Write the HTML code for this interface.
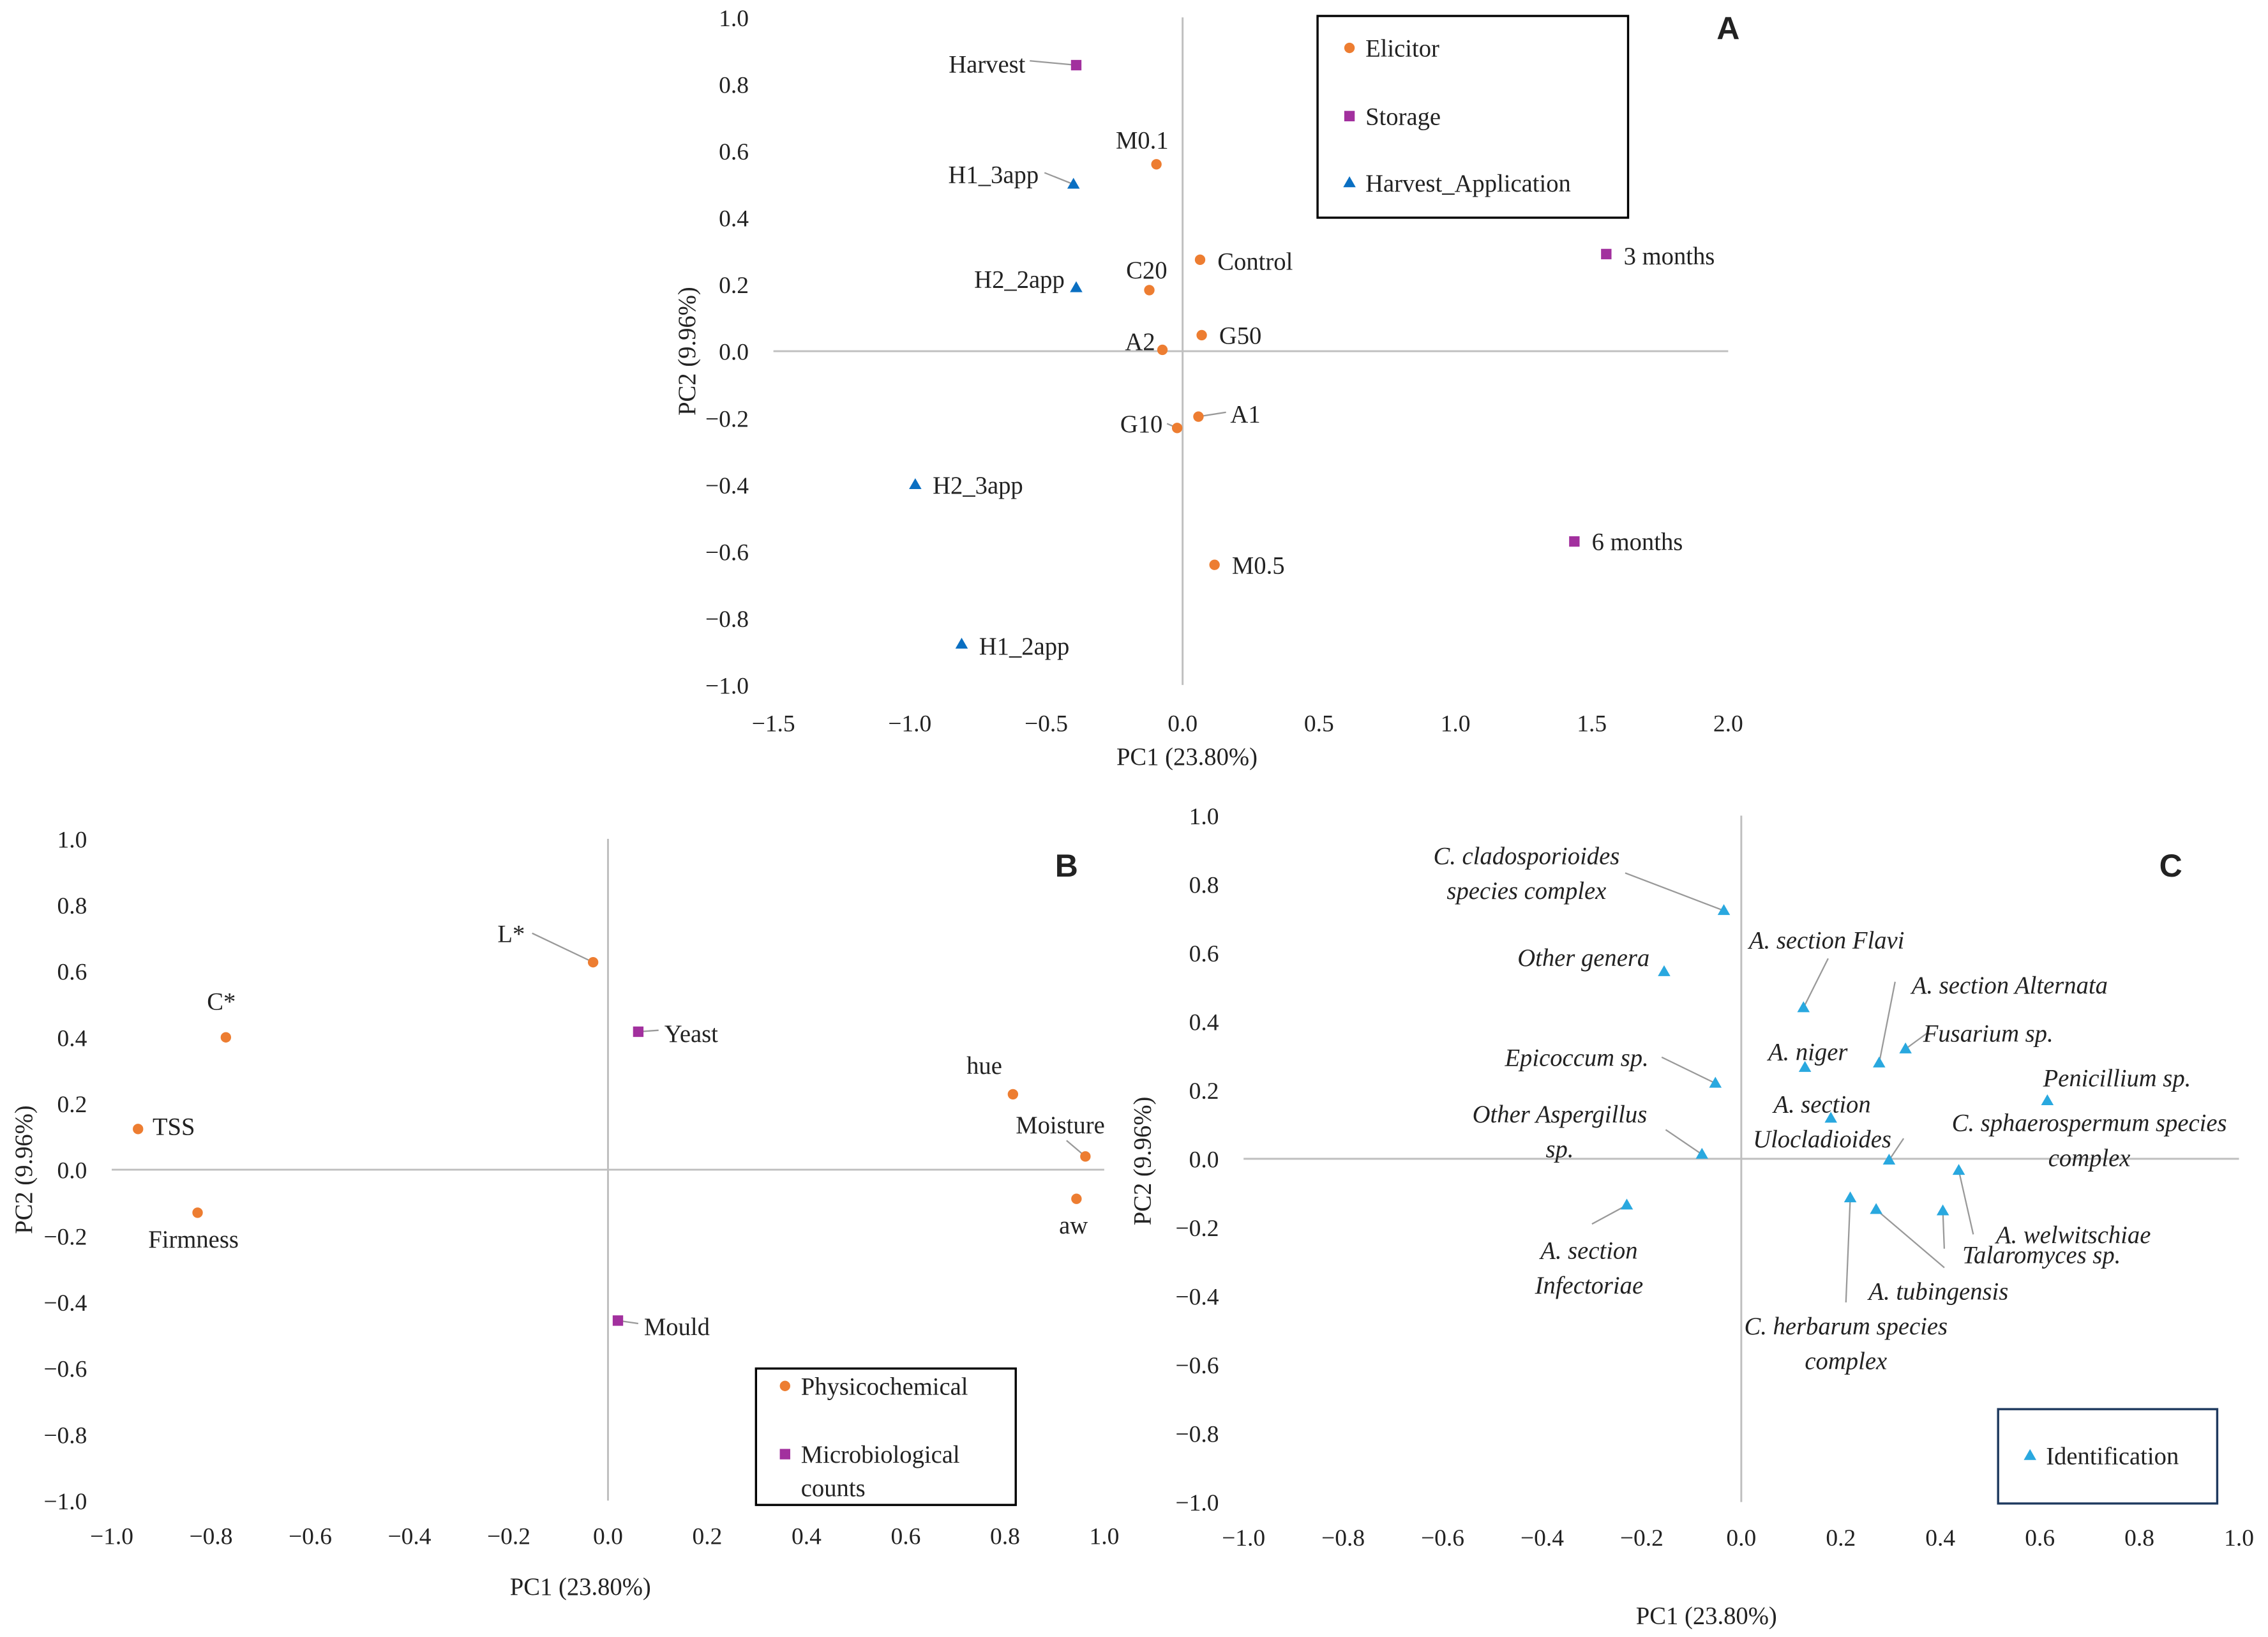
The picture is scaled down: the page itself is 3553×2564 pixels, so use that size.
<!DOCTYPE html>
<html><head><meta charset="utf-8">
<style>
html,body{margin:0;padding:0;background:#fff;}
svg{display:block;}
text{font-family:"Liberation Serif",serif;fill:#222;}
</style></head>
<body>
<svg id="chart" xmlns="http://www.w3.org/2000/svg" width="3553" height="2564" viewBox="0 0 1563 1128" preserveAspectRatio="none"></svg>
<script>
// ===== Panel A data =====
const aLabels = ["Harvest","M0.1","H1_3app","Control","3 months","C20","H2_2app","G50","A2","A1","G10","H2_3app","6 months","M0.5","H1_2app"];
const aPC1 = [-0.39,-0.096,-0.40,0.064,1.553,-0.122,-0.39,0.07,-0.074,0.058,-0.02,-0.98,1.436,0.117,-0.81];
const aPC2 = [0.857,0.56,0.50,0.274,0.291,0.183,0.19,0.048,0.004,-0.196,-0.23,-0.40,-0.57,-0.64,-0.878];
const aGroup = ["Storage","Elicitor","Harvest_Application","Elicitor","Storage","Elicitor","Harvest_Application","Elicitor","Elicitor","Elicitor","Elicitor","Harvest_Application","Storage","Elicitor","Harvest_Application"];
const aXTicks = [-1.5,-1.0,-0.5,0.0,0.5,1.0,1.5,2.0];
const aYTicks = [1.0,0.8,0.6,0.4,0.2,0.0,-0.2,-0.4,-0.6,-0.8,-1.0];
// label layout: [dx, dy, anchor, leaderDx, leaderDy] (leader relative to text anchor)
const aOff = [[-35,-1,"end",3,-2],[-28,-17,"start"],[-24,-7,"end",4,-1],[12,1,"start"],[12,1,"start"],[-16,-14,"start"],[-8,-6,"end"],[12,0,"start"],[-5,-6,"end"],[22,-2,"start",-3,-1],[-10,-3,"end",3,0],[12,0,"start"],[12,0,"start"],[12,0,"start"],[12,1,"start"]];

// ===== Panel B data =====
const bLabels = ["L*","C*","Yeast","TSS","hue","Moisture","Firmness","aw","Mould"];
const bPC1 = [-0.03,-0.77,0.061,-0.947,0.816,0.962,-0.827,0.944,0.02];
const bPC2 = [0.627,0.40,0.417,0.123,0.228,0.04,-0.13,-0.088,-0.456];
const bGroup = ["Physicochemical","Physicochemical","Microbiological","Physicochemical","Physicochemical","Physicochemical","Physicochemical","Physicochemical","Microbiological"];
const bXTicks = [-1.0,-0.8,-0.6,-0.4,-0.2,0.0,0.2,0.4,0.6,0.8,1.0];
const bYTicks = [1.0,0.8,0.6,0.4,0.2,0.0,-0.2,-0.4,-0.6,-0.8,-1.0];
const bOff = [[-47,-20,"end",5,0],[-13,-25,"start"],[18,1,"start",-4,-2],[10,-2,"start"],[-32,-20,"start"],[-48,-22,"start",35,11],[-34,18,"start"],[-12,18,"start"],[18,4,"start",-4,-2]];

// ===== Panel C data =====
const cLabels = [["C. cladosporioides","species complex"],["Other genera"],["A. section Flavi"],["A. section Alternata"],["Fusarium sp."],["A. niger"],["Epicoccum sp."],["Penicillium sp."],["A. section","Ulocladioides"],["Other Aspergillus","sp."],["C. sphaerospermum species","complex"],["A. welwitschiae"],["A. section","Infectoriae"],["C. herbarum species","complex"],["A. tubingensis"],["Talaromyces sp."]];
const cPC1 = [-0.035,-0.155,0.125,0.277,0.33,0.128,-0.052,0.615,0.18,-0.079,0.297,0.437,-0.23,0.219,0.271,0.405];
const cPC2 = [0.723,0.545,0.44,0.279,0.32,0.266,0.22,0.169,0.118,0.013,-0.004,-0.034,-0.135,-0.114,-0.148,-0.152];
const cXTicks = [-1.0,-0.8,-0.6,-0.4,-0.2,0.0,0.2,0.4,0.6,0.8,1.0];
const cYTicks = [1.0,0.8,0.6,0.4,0.2,0.0,-0.2,-0.4,-0.6,-0.8,-1.0];
const cOff = [[-136,-38,"middle",68,12],[-10,-10,"end"],[16,-47,"middle",1,13],[90,-54,"middle",-79,-2],[57,-11,"middle",-42,0],[2,-11,"middle"],[-46,-18,"end",9,0],[48,-16,"middle"],[-6,-10,"middle"],[-98,-28,"middle",73,11],[138,-26,"middle",-128,11],[79,44,"middle",-69,0],[-26,31,"middle",2,-18],[-3,88,"middle",0,-16],[43,56,"middle",4,-16],[68,30,"middle",-67,-4]];

const colors = {Elicitor:"#ED7D31",Storage:"#A2309E",Harvest_Application:"#0A6FC2",Physicochemical:"#ED7D31",Microbiological:"#A2309E",Identification:"#29A8DF"};
const shapes = {Elicitor:"circle",Storage:"square",Harvest_Application:"triangle",Physicochemical:"circle",Microbiological:"square",Identification:"triangle"};

const svg = document.getElementById('chart');
const NS = "http://www.w3.org/2000/svg";
function mk(tag, attrs, parent){const e=document.createElementNS(NS,tag);for(const k in attrs)e.setAttribute(k,attrs[k]);(parent||svg).appendChild(e);return e;}
function fmt(v){const s=Math.abs(v).toFixed(1);return (v<0?"\u2212":"")+s;}
function marker(g,shape,x,y,color){
  let e;
  if(shape==="circle") e=mk('circle',{cx:x,cy:y,r:3.6,fill:color},g);
  else if(shape==="square") e=mk('rect',{x:x-3.6,y:y-3.6,width:7.2,height:7.2,fill:color},g);
  else e=mk('polygon',{points:`${x},${y-4.5} ${x+4.3},${y+3} ${x-4.3},${y+3}`,fill:color},g);
  return e;
}
function panel(cfg){
  const g=mk('g',{});
  
  
  const sx=v=>cfg.x0+(v-cfg.xmin)/(cfg.xmax-cfg.xmin)*(cfg.x1-cfg.x0);
  const sy=v=>cfg.y0+(cfg.ymax-v)/(cfg.ymax-cfg.ymin)*(cfg.y1-cfg.y0);
  const ax=mk('line',{x1:cfg.x0,x2:cfg.x1,y1:sy(0),y2:sy(0),stroke:"#bfbfbf","stroke-width":1.3},g);
  
  const ay=mk('line',{x1:sx(0),x2:sx(0),y1:cfg.y0,y2:cfg.y1,stroke:"#bfbfbf","stroke-width":1.3},g);
  
  cfg.xt.forEach(v=>{const t=mk('text',{x:sx(v),y:cfg.y1+cfg.xtDy,"text-anchor":"middle","font-size":16.5},g);t.textContent=fmt(v);
    });
  cfg.yt.forEach(v=>{const t=mk('text',{x:cfg.ytX,y:sy(v)+6,"text-anchor":"end","font-size":16.5},g);t.textContent=fmt(v);
    });
  const xt=mk('text',{x:cfg.xTitle[0],y:cfg.xTitle[1],"text-anchor":"middle","font-size":17},g);xt.textContent="PC1 (23.80%)";
  
  const yt=mk('text',{x:0,y:0,"text-anchor":"middle","font-size":17,transform:`translate(${cfg.yTitle[0]},${cfg.yTitle[1]}) rotate(-90)`},g);yt.textContent="PC2 (9.96%)";
  
  cfg.labels.forEach((lab,i)=>{
    const px=sx(cfg.px[i]),py=sy(cfg.py[i]);
    const grp=cfg.groups[i];
    const o=cfg.off[i];
    const lines=Array.isArray(lab)?lab:[lab];
    const tx=px+o[0],ty=py+o[1];
    if(o.length>3){
      const l=mk('line',{x1:tx+o[3],y1:ty+o[4],x2:px,y2:py,stroke:"#999","stroke-width":1},g);
      
    }
    const m=marker(g,shapes[grp],px,py,colors[grp]);
    
    
    lines.forEach((ln,k)=>{
      const t=mk('text',{x:tx,y:ty+6+k*24,"text-anchor":o[2],"font-size":17,"font-style":cfg.italic?"italic":"normal"},g);
      t.textContent=ln;
      
      
    });
  });
  const L=mk('text',{x:cfg.letter[0],y:cfg.letter[1],"font-size":22,"font-weight":"bold","text-anchor":"middle",style:"font-family:'Liberation Sans',sans-serif"},g);
  L.textContent=cfg.letterText;
  
  const lg=mk('g',{},g);
  
  const r=mk('rect',{x:cfg.leg[0],y:cfg.leg[1],width:cfg.leg[2],height:cfg.leg[3],fill:"#fff",stroke:cfg.legStroke||"#000","stroke-width":1.5},lg);
  
  cfg.legItems.forEach(it=>{
    const e=marker(lg,shapes[it.g],it.x,it.y,colors[it.g]);
    
    it.lines.forEach((ln,k)=>{const t=mk('text',{x:it.x+11,y:it.y+6+k*23,"font-size":17},lg);t.textContent=ln;
      });
  });
}
panel({name:"panel-a",x0:533,x1:1191,y0:12,y1:472,xmin:-1.5,xmax:2.0,ymin:-1,ymax:1,xt:aXTicks,yt:aYTicks,xtDy:32,ytX:516,
  xTitle:[818,527],yTitle:[479,242],labels:aLabels,px:aPC1,py:aPC2,groups:aGroup,off:aOff,letter:[1191,27],letterText:"A",
  leg:[908,11,214,139],legItems:[{g:"Elicitor",x:930,y:33,lines:["Elicitor"]},{g:"Storage",x:930,y:80,lines:["Storage"]},{g:"Harvest_Application",x:930,y:126,lines:["Harvest_Application"]}]});
panel({name:"panel-b",x0:77,x1:761,y0:578,y1:1034,xmin:-1,xmax:1,ymin:-1,ymax:1,xt:bXTicks,yt:bYTicks,xtDy:30,ytX:60,
  xTitle:[400,1099],yTitle:[22,806],labels:bLabels,px:bPC1,py:bPC2,groups:bGroup,off:bOff,letter:[735,604],letterText:"B",
  leg:[521,943,179,94],legItems:[{g:"Physicochemical",x:541,y:955,lines:["Physicochemical"]},{g:"Microbiological",x:541,y:1002,lines:["Microbiological","counts"]}]});
panel({name:"panel-c",x0:857,x1:1543,y0:562,y1:1035,xmin:-1,xmax:1,ymin:-1,ymax:1,xt:cXTicks,yt:cYTicks,xtDy:30,ytX:840,
  xTitle:[1176,1119],yTitle:[793,800],labels:cLabels,px:cPC1,py:cPC2,groups:cLabels.map(()=>"Identification"),off:cOff,italic:true,letter:[1496,604],letterText:"C",
  leg:[1377,971,151,65],legStroke:"#1f3a5f",legItems:[{g:"Identification",x:1399,y:1003,lines:["Identification"]}]});
</script>
</body></html>
